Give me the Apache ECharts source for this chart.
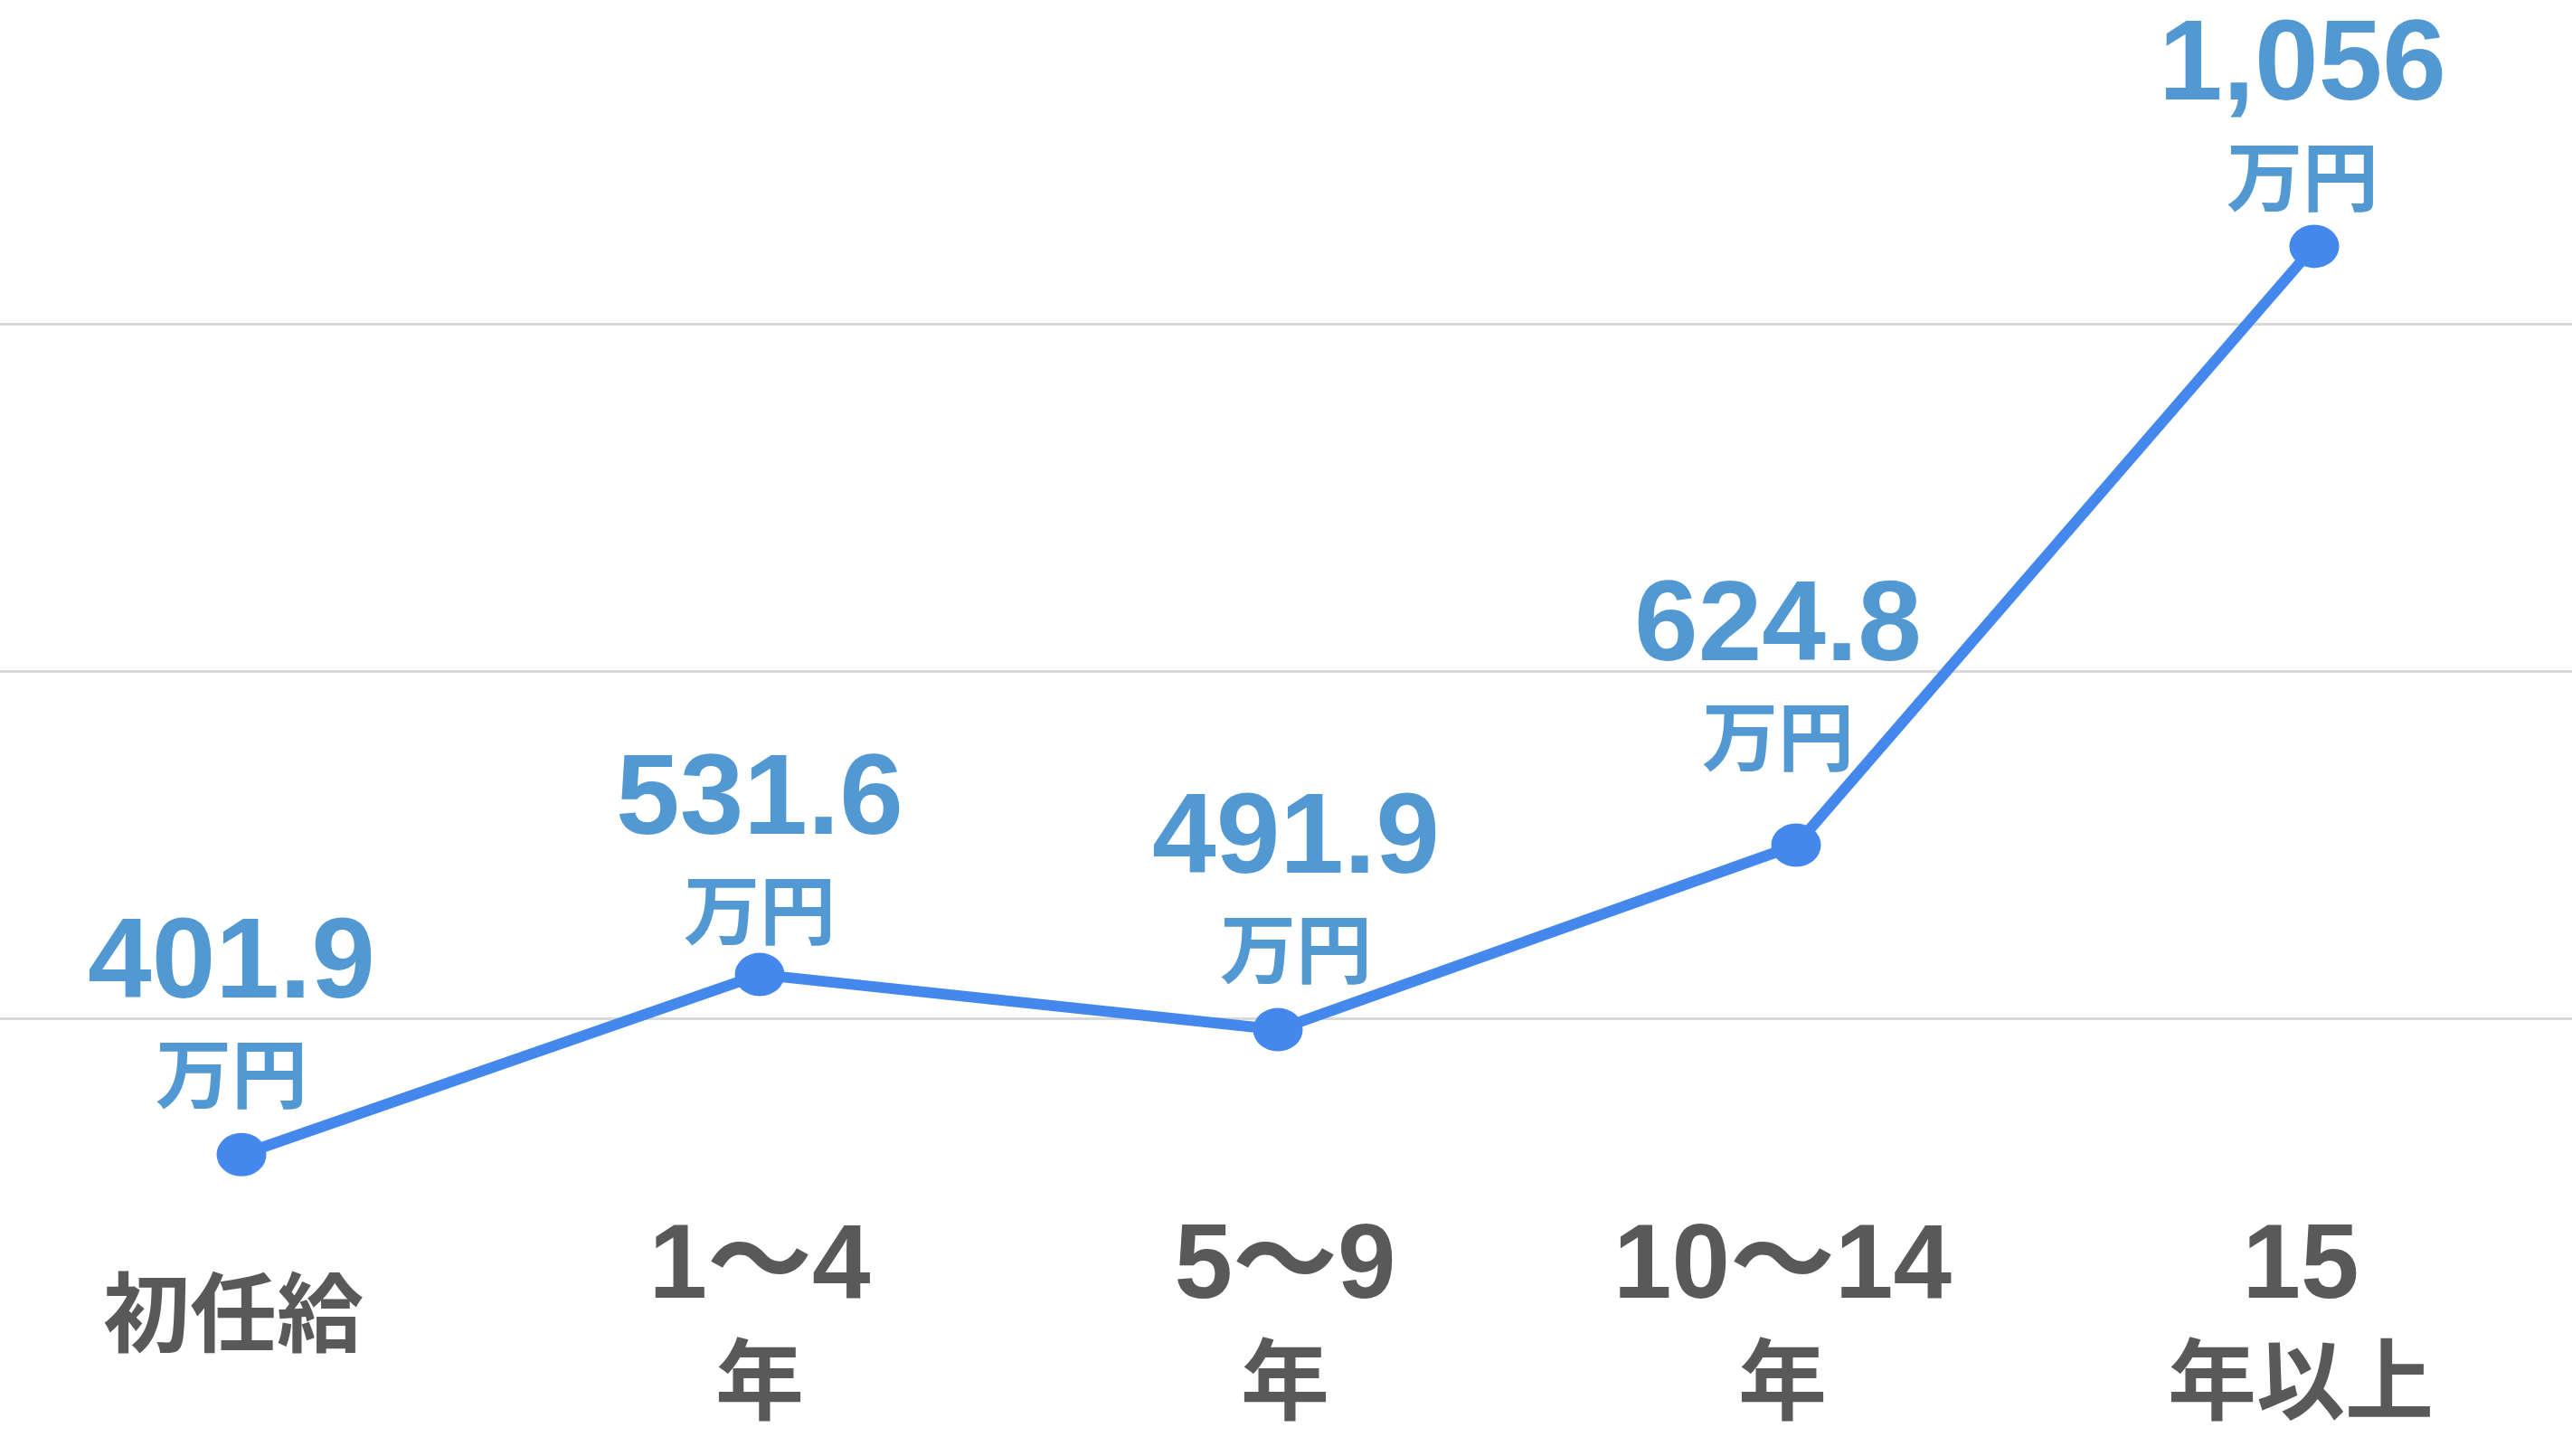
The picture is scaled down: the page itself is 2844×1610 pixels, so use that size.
<!DOCTYPE html>
<html>
<head>
<meta charset="utf-8">
<script src="https://cdn.jsdelivr.net/npm/echarts@6/dist/echarts.min.js"></script>
<style>
html, body { margin: 0; padding: 0; background: #fff; }
#chart { width: 2844px; height: 1610px; }
</style>
</head>
<body>
<div id="chart"></div>
<script>
// 年収の推移（万円）
var categories = ['初任給', '1〜4\n年', '5〜9\n年', '10〜14\n年', '15\n年以上'];
var salary = [401.9, 531.6, 491.9, 624.8, 1056];
var unitText = '万円';

// per-point label nudges [dx, dy] and category label shifts
var labelNudge = [[-11, -7], [0, 11], [20, -7], [-20, -38], [-13, 5]];
var catShift = [-9, 0, 8, -15, -15];

var numFont = '"Liberation Sans", Arial, "Noto Sans CJK JP", sans-serif';
var jpFont = '"Noto Sans CJK JP", "Noto Sans CJK SC", sans-serif';

var yMin = 250, yMax = 1233.4, yStep = 250;

var myChart = echarts.init(document.getElementById('chart'));

var points = salary.map(function (v, i) {
    return {
        value: v,
        label: { offset: labelNudge[i] }
    };
});

// rich styles for the category labels, one set per index so each can be nudged sideways
function sidePad(s, bottom) {
    return s < 0 ? [0, -2 * s, bottom || 0, 0] : [0, 0, bottom || 0, 2 * s];
}
var catRich = {};
catShift.forEach(function (s, i) {
    catRich['num' + i] = { fontSize: 116, fontWeight: 'bold', fontFamily: numFont, color: '#595959', lineHeight: 122, padding: sidePad(s) };
    catRich['jp' + i] = { fontSize: 98, fontWeight: 'bold', fontFamily: jpFont, color: '#595959', lineHeight: 122, padding: sidePad(s) };
    catRich['one' + i] = { fontSize: 96, fontWeight: 'bold', fontFamily: jpFont, color: '#595959', lineHeight: 122, padding: sidePad(s, 27) };
});

var option = {
    backgroundColor: '#fff',
    animation: false,
    grid: [
        // full width grid, only for the horizontal lines
        { left: 0, right: 0, top: 0, bottom: 100 },
        // data grid
        { left: 267, right: 285, top: 0, bottom: 100 }
    ],
    xAxis: [
        { gridIndex: 0, type: 'value', show: false },
        {
            gridIndex: 1,
            type: 'category',
            boundaryGap: false,
            data: categories,
            axisLine: { show: false },
            axisTick: { show: false },
            axisLabel: {
                interval: 0,
                margin: -46,
                verticalAlign: 'middle',
                color: '#595959',
                formatter: function (val, idx) {
                    var parts = val.split('\n');
                    if (parts.length === 1) return '{one' + idx + '|' + parts[0] + '}';
                    return '{num' + idx + '|' + parts[0] + '}\n{jp' + idx + '|' + parts[1] + '}';
                },
                rich: catRich
            }
        }
    ],
    yAxis: [
        {
            gridIndex: 0,
            type: 'value',
            min: yMin,
            max: yMax,
            interval: yStep,
            axisLine: { show: false },
            axisTick: { show: false },
            axisLabel: { show: false },
            splitLine: {
                show: true,
                showMinLine: false,
                showMaxLine: false,
                lineStyle: { color: '#d9d9d9', width: 3 }
            }
        },
        {
            gridIndex: 1,
            type: 'value',
            min: yMin,
            max: yMax,
            interval: yStep,
            axisLine: { show: false },
            axisTick: { show: false },
            axisLabel: { show: false },
            splitLine: { show: false }
        }
    ],
    series: [{
        type: 'line',
        xAxisIndex: 1,
        yAxisIndex: 1,
        data: points,
        symbol: 'circle',
        symbolSize: [55, 48],
        itemStyle: { color: '#4488ee' },
        lineStyle: { color: '#4488ee', width: 12 },
        label: {
            show: true,
            position: 'top',
            distance: 0,
            formatter: function (p) {
                var txt = p.value.toLocaleString('en-US', { maximumFractionDigits: 1 });
                return '{num|' + txt + '}\n{unit|' + unitText + '}';
            },
            rich: {
                num: { fontSize: 127, fontWeight: 'bold', fontFamily: numFont, color: '#5299d3', lineHeight: 122 },
                unit: { fontSize: 84, fontWeight: 'bold', fontFamily: jpFont, color: '#5299d3', lineHeight: 117 }
            }
        }
    }]
};

myChart.setOption(option);
</script>
</body>
</html>
